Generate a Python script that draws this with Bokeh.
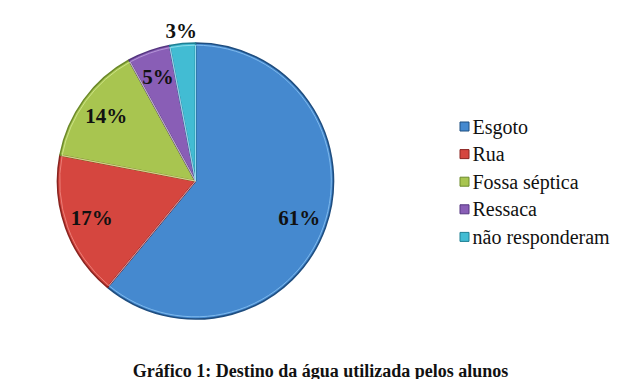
import numpy as np
from bokeh.plotting import figure
from bokeh.models import Range1d, ColumnDataSource
from bokeh.core.properties import value
from bokeh.embed import file_html
from bokeh.resources import INLINE

# ---- data ----
categories = ["Esgoto", "Rua", "Fossa séptica", "Ressaca", "não responderam"]
percents = [61, 17, 14, 5, 3]
labels = ["61%", "17%", "14%", "5%", "3%"]
title_text = "Gráfico 1: Destino da água utilizada pelos alunos"

# ---- styles ----
fills = ["#4589CF", "#D5463F", "#A8C550", "#895EB6", "#42BCD3"]
darks = ["#1F4E80", "#8A2420", "#6C8A2A", "#553680", "#1E7F93"]
lights = ["#8CC4F2", "#F08C86", "#D4EA94", "#BFA3E0", "#9BE4F0"]
label_rf = [0.80, 0.80, 0.80, 0.80, 1.09]

W, H = 640, 379
def X(ix):
    return ix
def Y(iy):
    return H - iy

cx, cy, R = X(195), Y(180.5), 138

vals = np.array(percents, dtype=float)
frac = vals / vals.sum()
cum_end = np.cumsum(frac)
cum_start = cum_end - frac
start_ang = np.pi / 2 - cum_start * 2 * np.pi
end_ang = np.pi / 2 - cum_end * 2 * np.pi
mid = np.pi / 2 - (cum_start + frac / 2) * 2 * np.pi

src = ColumnDataSource(dict(cat=categories, start=start_ang, end=end_ang,
                            fill=fills, dark=darks, light=lights))

p = figure(width=W, height=H, output_backend="svg", toolbar_location=None,
           x_range=Range1d(0, W), y_range=Range1d(0, H), min_border=0)
p.axis.visible = False
p.grid.visible = False
p.outline_line_color = None
p.background_fill_color = "white"
p.border_fill_color = "white"

p.wedge(x=cx, y=cy, radius=R, start_angle="start", end_angle="end",
        direction="clock", fill_color="fill", line_color="dark",
        line_width=1.6, source=src)
p.wedge(x=cx, y=cy, radius=R - 2.2, start_angle="start", end_angle="end",
        direction="clock", fill_color=None, line_color="light",
        line_width=1.0, line_alpha=0.8, source=src)

# slice labels
lr = np.array(label_rf) * R
lx = cx + lr * np.cos(mid)
ly = cy + lr * np.sin(mid)
p.text(x=lx, y=ly, text=labels, text_font=value("Liberation Serif"),
       text_font_style="bold", text_font_size="21px", text_color="#111111",
       text_align="center", text_baseline="middle")

# legend
n = len(categories)
ly0, dy = Y(126), 27.6
leg_y = [ly0 - i * dy for i in range(n)]
p.rect(x=[X(464)] * n, y=leg_y, width=9, height=9, fill_color=fills,
       line_color=darks, line_width=1)
p.text(x=[X(472)] * n, y=leg_y, text=categories,
       text_font=value("Liberation Serif"), text_font_size="20px",
       text_color="#111111", text_align="left", text_baseline="middle")

# title at bottom
p.text(x=[X(320)], y=[Y(370)], text=[title_text],
       text_font=value("Liberation Serif"), text_font_style="bold",
       text_font_size="18px", text_color="#111111", text_align="center",
       text_baseline="alphabetic")

open("out.html", "w").write(file_html(p, INLINE))
